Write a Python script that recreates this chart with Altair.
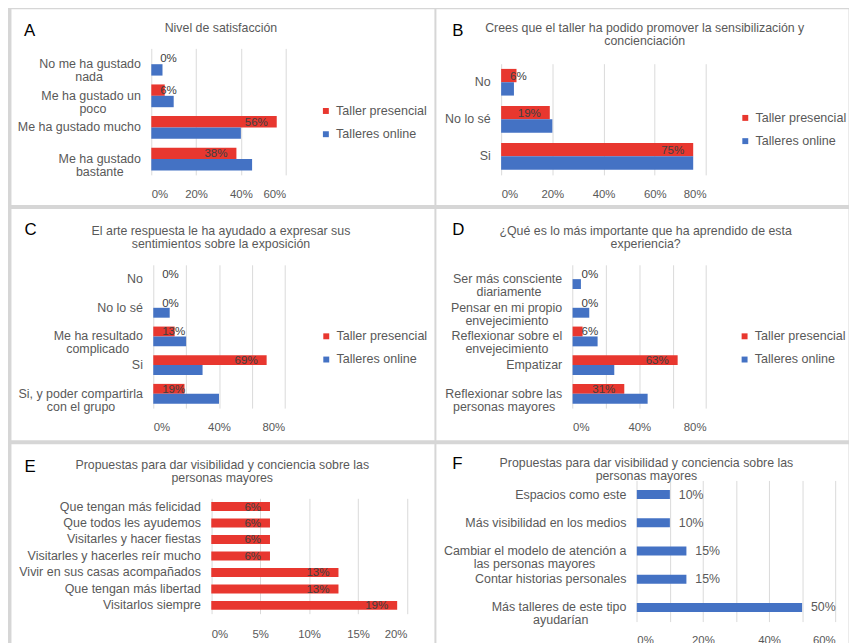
import altair as alt
import pandas as pd

RED = "#E8372F"
BLUE = "#4472C4"
GRID = "#D9D9D9"
TXT = "#595959"
LAB = "#404040"
FONT = "Liberation Sans"
SERIES = ["Taller presencial", "Talleres online"]

# ---------------- data ----------------
A_title = ["Nivel de satisfacción"]
A_cats = ["No me ha gustado\nnada", "Me ha gustado un\npoco", "Me ha gustado mucho", "Me ha gustado\nbastante"]
A_pres = [0, 6, 56, 38]
A_online = [5, 10, 40, 45]
A_ticks = [0, 20, 40, 60]

B_title = ["Crees que el taller ha podido promover la sensibilización y", "concienciación"]
B_cats = ["No", "No lo sé", "Si"]
B_pres = [6, 19, 75]
B_online = [5, 20, 75]
B_ticks = [0, 20, 40, 60, 80]

C_title = ["El arte respuesta le ha ayudado a expresar sus", "sentimientos sobre la exposición"]
C_cats = ["No", "No lo sé", "Me ha resultado\ncomplicado", "Si", "Si, y poder compartirla\ncon el grupo"]
C_pres = [0, 0, 13, 69, 19]
C_online = [0, 10, 20, 30, 40]
C_ticks = [0, 20, 40, 60, 80]

D_title = ["¿Qué es lo más importante que ha aprendido de esta", "experiencia?"]
D_cats = ["Ser más consciente\ndiariamente", "Pensar en mi propio\nenvejecimiento",
          "Reflexionar sobre el\nenvejecimiento", "Empatizar", "Reflexionar sobre las\npersonas mayores"]
D_pres = [0, 0, 6, 63, 31]
D_online = [5, 10, 15, 25, 45]
D_ticks = [0, 20, 40, 60, 80]

E_title = ["Propuestas para dar visibilidad y conciencia sobre las", "personas mayores"]
E_cats = ["Que tengan más felicidad", "Que todos les ayudemos", "Visitarles y hacer fiestas",
          "Visitarles y hacerles reír mucho", "Vivir en sus casas acompañados",
          "Que tengan más libertad", "Visitarlos siempre"]
E_pres = [6, 6, 6, 6, 13, 13, 19]
E_ticks = [0, 5, 10, 15, 20]

F_title = ["Propuestas para dar visibilidad y conciencia sobre las", "personas mayores"]
F_cats = ["Espacios como este", "Más visibilidad en los medios",
          "Cambiar el modelo de atención a\nlas personas mayores", "Contar historias personales",
          "Más talleres de este tipo\nayudarían"]
F_online = [10, 10, 15, 15, 50]
F_ticks = [0, 10, 20, 30, 40, 50, 60]

# ---------------- layout (per panel, pixels inside each panel) ----------------
LA = dict(w=428, h=198, xr=[142, 278], yr=[40, 168], pi=0.28, xpad=14, thr=20,
          ty=19, tx=212, lx=12.7, ly=22.2, lgx=312.3, lgy=97)
LB = dict(w=417, h=198, xr=[66, 273.3], yr=[55.5, 168], pi=0.28, xpad=14, thr=15,
          ty=19, tx=210.8, lx=16, ly=22.2, lgx=306.7, lgy=104)
LC = dict(w=428, h=234, xr=[144, 277], yr=[57, 202], pi=0.31, xpad=13.4, thr=25,
          ty=22, tx=212, lx=13.3, ly=21, lgx=312.7, lgy=123)
LD = dict(w=417, h=234, xr=[138.3, 273.3], yr=[57, 202], pi=0.31, xpad=13.4, thr=15,
          ty=22, tx=211.7, lx=16, ly=21.8, lgx=306, lgy=123)
LE = dict(w=428, h=212, xr=[202.7, 400.7], yr=[55.3, 172], pi=0.46, xpad=15,
          ty=21, tx=213.3, lx=13.3, ly=23.3)
LF = dict(w=417, h=212, xr=[203.3, 404], yr=[37.2, 180], pi=0.68, xpad=13,
          ty=19.3, tx=212.5, lx=16, ly=19.8)

# approximate glyph advance widths (Arial / Liberation Sans, 1/1000 em), used only
# to centre the lines of the wrapped category labels as the original does
GW = {" ": 278, ",": 278, ".": 278, "a": 556, "b": 556, "c": 500, "d": 556,
      "e": 556, "f": 278, "g": 556, "h": 556, "i": 222, "j": 222, "k": 500, "l": 222,
      "m": 833, "n": 556, "o": 556, "p": 556, "q": 556, "r": 333, "s": 500, "t": 278,
      "u": 556, "v": 500, "w": 722, "x": 500, "y": 500, "z": 500, "á": 556, "é": 556,
      "í": 278, "ó": 556, "ú": 556, "ñ": 556, "M": 833, "S": 667, "P": 667, "R": 722,
      "C": 722, "E": 667, "N": 722, "Q": 778, "V": 667}
NBSP = "\u00a0"
ZW = "\u200b"


def centred(label):
    lines = label.split("\n")
    if len(lines) < 2:
        return label
    wid = [sum(GW.get(ch, 556) for ch in ln) for ln in lines]
    m = max(wid)
    out = []
    for ln, w in zip(lines, wid):
        k = int(round((m - w) / 2 / 278))
        out.append(ln + NBSP * k + ZW if k > 0 else ln)
    return "\n".join(out)


def axes(letter, title, ticks, L):
    x_axis = alt.Axis(values=ticks, labelExpr="datum.value + '%'", title=None, grid=False,
                      domain=False, ticks=False, orient="bottom",
                      offset=L["yr"][1] - L["h"], labelPadding=L["xpad"], labelFontSize=11.5,
                      labelColor=TXT, labelFont=FONT)
    # top axis: draws the vertical gridlines and carries the panel title
    grid_axis = alt.Axis(values=ticks, orient="top", grid=True, gridColor=GRID,
                         gridWidth=1, labels=False, domain=False, ticks=False, offset=0,
                         title=title, titleX=L["tx"], titleY=L["ty"], titleAngle=0,
                         titleAlign="center", titleBaseline="middle", titleFontSize=12.5,
                         titleFontWeight="normal", titleColor=TXT, titleFont=FONT,
                         titleLineHeight=13.3)
    y_axis = alt.Axis(title=letter, titleAngle=0, titleAlign="left", titleBaseline="middle",
                      titleX=L["lx"] - L["xr"][0], titleY=L["ly"], titleFontSize=17,
                      titleFontWeight="normal", titleColor="black", titleFont=FONT,
                      domain=False, ticks=False, grid=False, offset=-L["xr"][0],
                      labelPadding=11, labelLimit=400, labelExpr="split(datum.label, '\\n')",
                      labelLineHeight=13, labelFontSize=12.6, labelColor=TXT, labelFont=FONT)
    return x_axis, grid_axis, y_axis


def grouped(letter, title, cats, pres, online, ticks, L):
    cats = [centred(c) for c in cats]
    df = pd.DataFrame({
        "cat": cats * 2,
        "serie": [SERIES[0]] * len(cats) + [SERIES[1]] * len(cats),
        "v": pres + online,
    })
    x_axis, grid_axis, y_axis = axes(letter, title, ticks, L)
    xs = alt.Scale(domain=[ticks[0], ticks[-1]], range=L["xr"], nice=False)
    ys = alt.Scale(domain=cats, range=L["yr"], paddingInner=L["pi"], paddingOuter=L["pi"] / 2)
    os = alt.Scale(domain=SERIES, paddingInner=0, paddingOuter=0)
    base = alt.Chart(df)
    bars = base.mark_bar().encode(
        x=alt.X("v:Q", scale=xs, axis=x_axis),
        y=alt.Y("cat:N", scale=ys, axis=y_axis),
        yOffset=alt.YOffset("serie:N", scale=os),
        color=alt.Color("serie:N", scale=alt.Scale(domain=SERIES, range=[RED, BLUE]),
                        legend=alt.Legend(orient="none", legendX=L["lgx"], legendY=L["lgy"],
                                          title=None, symbolType="square", symbolSize=36,
                                          symbolStrokeWidth=0, labelFontSize=12.7,
                                          labelColor=TXT, labelFont=FONT, rowPadding=9.5,
                                          labelOffset=4, padding=0)),
    )
    red = base.transform_filter(f"datum.serie == '{SERIES[0]}'").transform_calculate(
        lab="datum.v + '%'")
    big = red.transform_filter(f"datum.v >= {L['thr']}").mark_text(
        align="right", baseline="middle", dx=-9, fontSize=11.7, color=LAB, font=FONT
    ).encode(x=alt.X("v:Q", axis=grid_axis), y="cat:N", yOffset="serie:N", text="lab:N")
    small = red.transform_filter(f"datum.v < {L['thr']}").mark_text(
        align="left", baseline="middle", dx=9, fontSize=11.7, color=LAB, font=FONT
    ).encode(x=alt.X(datum=0, axis=None), y="cat:N", yOffset="serie:N", text="lab:N")
    return alt.layer(bars, big, small).resolve_axis(x="independent").properties(
        width=L["w"], height=L["h"])


def single(letter, title, cats, vals, ticks, L, color, inside):
    cats = [centred(c) for c in cats]
    df = pd.DataFrame({"cat": cats, "v": vals})
    x_axis, grid_axis, y_axis = axes(letter, title, ticks, L)
    xs = alt.Scale(domain=[ticks[0], ticks[-1]], range=L["xr"], nice=False)
    ys = alt.Scale(domain=cats, range=L["yr"], paddingInner=L["pi"], paddingOuter=L["pi"] / 2)
    base = alt.Chart(df)
    bars = base.mark_bar(color=color).encode(
        x=alt.X("v:Q", scale=xs, axis=x_axis),
        y=alt.Y("cat:N", scale=ys, axis=y_axis),
    )
    if inside:
        txt = base.transform_calculate(lab="datum.v + '%'").mark_text(
            align="right", baseline="middle", dx=-9, fontSize=11.7, color=LAB, font=FONT)
    else:
        txt = base.transform_calculate(lab="datum.v + '%'").mark_text(
            align="left", baseline="middle", dx=9, fontSize=12.5, color=TXT, font=FONT)
    txt = txt.encode(x=alt.X("v:Q", axis=grid_axis), y="cat:N", text="lab:N")
    return alt.layer(bars, txt).resolve_axis(x="independent").properties(
        width=L["w"], height=L["h"])


pA = grouped("A", A_title, A_cats, A_pres, A_online, A_ticks, LA)
pB = grouped("B", B_title, B_cats, B_pres, B_online, B_ticks, LB)
pC = grouped("C", C_title, C_cats, C_pres, C_online, C_ticks, LC)
pD = grouped("D", D_title, D_cats, D_pres, D_online, D_ticks, LD)
pE = single("E", E_title, E_cats, E_pres, E_ticks, LE, RED, True)
pF = single("F", F_title, F_cats, F_online, F_ticks, LF, BLUE, False)

RES = dict(color="independent", x="independent", y="independent", yOffset="independent")


def row(a, b):
    return alt.hconcat(a, b, spacing=2, bounds="flush").resolve_scale(**RES)


chart = alt.vconcat(row(pA, pB), row(pC, pD), row(pE, pF), spacing=2).resolve_scale(
    **RES
).properties(
    padding={"left": 2, "top": -4, "right": 0, "bottom": 0},
    background="#D6D6D6",
).configure(
    font=FONT,
    view=alt.ViewConfig(fill="white", stroke="transparent"),
)

chart.save("out.html", embed_options={"renderer": "svg", "actions": False})
